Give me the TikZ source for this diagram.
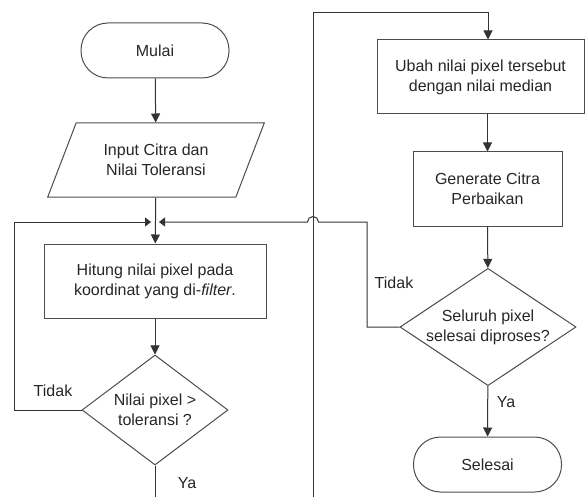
\documentclass[tikz,border=0pt]{standalone}
\usepackage{fontspec}
\setmainfont{Liberation Sans}
\usetikzlibrary{shapes.geometric, arrows.meta}

\tikzset{
	terminal/.style={draw=black!70, rounded corners=13.5pt, minimum width=74pt, minimum height=27.5pt, align=center},
	process/.style={draw=black!70, minimum height=37pt, align=center},
	io/.style={draw=black!70, trapezium, trapezium left angle=65, trapezium right angle=115, trapezium stretches=true, minimum width=109pt, minimum height=37pt, align=center},
	decision/.style={draw=black!70, diamond, aspect=1.5, inner sep=0pt, minimum height=55pt, align=center},
	flow/.style={draw=black!80, line width=0.5pt},
	joinflow/.style={flow, -{Triangle[length=3pt, width=4.5pt]}, shorten >=2pt}
}

\begin{document}
\begin{tikzpicture}[x=0.5pt, y=-0.5pt, line width=0.5pt, >={Triangle[length=4.5pt, width=4.5pt]},
	every node/.style={font=\fontsize{8}{10}\selectfont, text=black!85}]
		\useasboundingbox (0, 0) rectangle (587, 497);
		\node [terminal] (mulai) at (155, 50.5) {Mulai};
		\node [io] (input) at (156, 160) {Input Citra dan\\Nilai Toleransi};
		\node [process, minimum width=111pt] (hitung) at (155, 281) {Hitung nilai pixel pada\\koordinat yang di-\emph{filter}.};
		\node [decision, minimum width=73pt] (cek) at (155, 410) {Nilai pixel >\\toleransi ?};
		\node [process, minimum width=103.5pt] (ubah) at (480.5, 77) {Ubah nilai pixel tersebut\\dengan nilai median};
		\node [process, minimum width=74.5pt] (generate) at (487.5, 189) {Generate Citra\\Perbaikan};
		\node [decision, minimum width=83pt] (seluruh) at (488, 327) {Seluruh pixel\\selesai diproses?};
		\node [terminal] (selesai) at (487.5, 464.5) {Selesai};
		\coordinate (join) at (155, 222);
		\coordinate (kiri) at (14, 222);
		\coordinate (kanan) at (367, 222);
		\coordinate (lompat) at (313, 222);
		\coordinate (bawah A) at (155, 497);
		\coordinate (bawah B) at (313, 497);
		\coordinate (atas B) at (313, 13);
		\coordinate (atas C) at (488, 13);
		\draw [flow, ->] (mulai) -- (input);
		\draw [flow, ->] (input) -- (hitung);
		\draw [flow, ->] (hitung) -- (cek);
		\draw [flow] (cek) -- (bawah A);
		\draw [joinflow] (cek.west) -| (kiri) -- (join);
		\draw [joinflow] (seluruh.west) -| (kanan) -- ([xshift=2.75pt]lompat) arc (0:180:2.75pt) -- (join);
		\draw [flow, ->] (bawah B) -- (atas B) -- (atas C) -- (atas C |- ubah.north);
		\draw [flow, ->] (ubah.south -| generate.north) -- (generate);
		\draw [flow, ->] (generate) -- (seluruh);
		\draw [flow, ->] (seluruh) -- (selesai);
		\node (tidak A) at (53, 391) {Tidak};
		\node (ya A) at (187, 483) {Ya};
		\node (tidak B) at (394, 283) {Tidak};
		\node (ya B) at (506, 402) {Ya};
	\end{tikzpicture}
\end{document}
